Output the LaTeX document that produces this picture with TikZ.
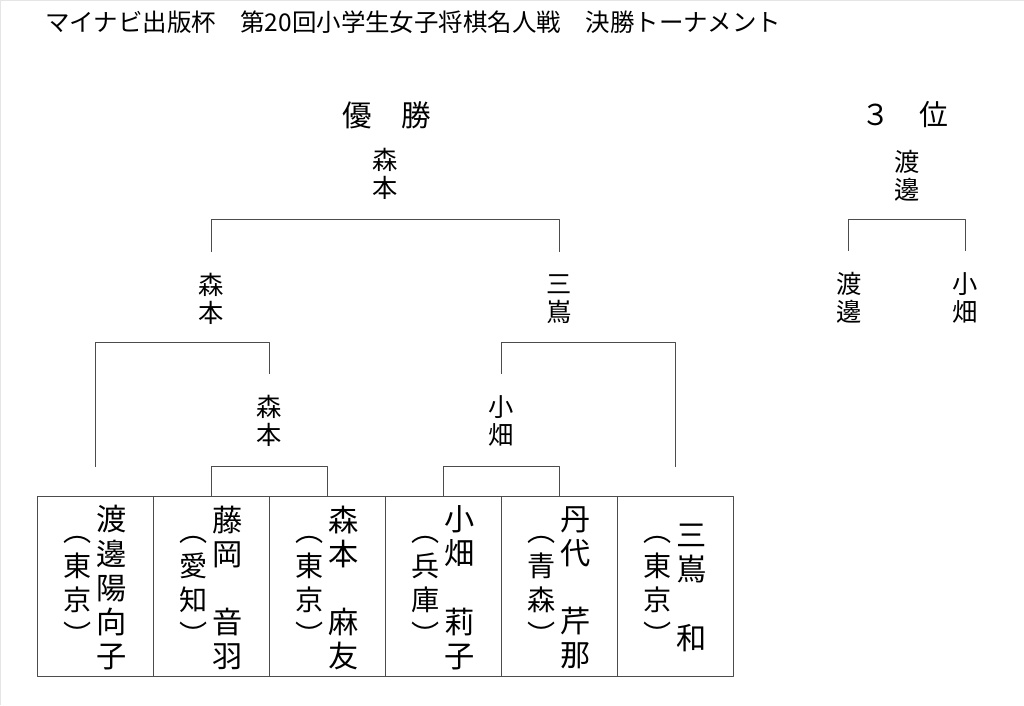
\documentclass[tikz,border=0pt]{standalone}
\usepackage{fontspec}
\newfontfamily\jp{Noto Sans CJK JP}
\begin{document}
\begin{tikzpicture}[x=0.025cm,y=-0.025cm,font=\jp,line join=round,
	sen/.style={draw=black!70,line width=.7pt},
	waku/.style={sen,minimum width=2.9cm,minimum height=4.5cm,inner sep=0},
	tate/.style={align=center,inner sep=0,font=\jp\fontsize{18}{20}\selectfont},
	mei/.style={align=center,inner sep=0,font=\jp\fontsize{21.5}{24.3}\selectfont},
	ken/.style={align=center,inner sep=0,font=\jp\fontsize{20}{24.8}\selectfont}]
	\fill[white] (0,0) rectangle (1024,705);
	\draw[gray!20] (0.6,705) -- (0.6,0.6) -- (1024,0.6);
	\node[anchor=west,inner sep=0,font=\jp\fontsize{17.4}{20}\selectfont] (title) at (45,22) {マイナビ出版杯　第20回小学生女子将棋名人戦　決勝トーナメント};
	\node[inner sep=0,font=\jp\fontsize{21}{24}\selectfont] (yusho) at (386.7,115) {優　勝};
	\node[inner sep=0,font=\jp\fontsize{20.5}{24}\selectfont] (sani) at (905,115) {３　位};
	% players
	\foreach \i/\x/\nm/\pf in {1/96/{渡\\邊\\陽\\向\\子}/{東\\京},2/212/{藤\\岡\\　\\音\\羽}/{愛\\知},
		3/328/{森\\本\\　\\麻\\友}/{東\\京},4/444/{小\\畑\\　\\莉\\子}/{兵\\庫},
		5/560/{丹\\代\\　\\芹\\那}/{青\\森},6/676/{三\\嶌\\　\\和}/{東\\京}}{
		\node[waku] (p\i) at (\x,587) {};
		\node[mei] (n\i) at (\x+16,588) {\nm};
		\node[ken] (k\i) at (\x-18,591) {︵\\\pf\\︶};
	}
	% winners
	\node[tate] (q1) at (269.7,421) {森\\本};
	\node[tate] (q2) at (501.7,421) {小\\畑};
	\node[tate] (s1) at (211.7,299) {森\\本};
	\node[tate] (s2) at (559.7,299) {三\\嶌};
	\node[tate] (f1) at (385,174) {森\\本};
	\node[tate] (t0) at (907.7,176) {渡\\邊};
	\node[tate] (t1) at (849,298) {渡\\邊};
	\node[tate] (t2) at (965.7,298) {小\\畑};
	\coordinate (a1) at (211.7,252); \coordinate (a2) at (559.7,252);
	\coordinate (b1) at (95.7,467); \coordinate (b2) at (269.7,374);
	\coordinate (b3) at (501.7,374); \coordinate (b4) at (675.7,467);
	\coordinate (c1) at (849,251); \coordinate (c2) at (965.7,251);
	\draw[sen] (p2.north) -- ++(0,-30) -| (p3.north);
	\draw[sen] (p4.north) -- ++(0,-30) -| (p5.north);
	\draw[sen] (b1) -- ++(0,-124) -| (b2);
	\draw[sen] (b3) -- ++(0,-31) -| (b4);
	\draw[sen] (a1) -- ++(0,-32) -| (a2);
	\draw[sen] (c1) -- ++(0,-31) -| (c2);
\end{tikzpicture}
\end{document}
